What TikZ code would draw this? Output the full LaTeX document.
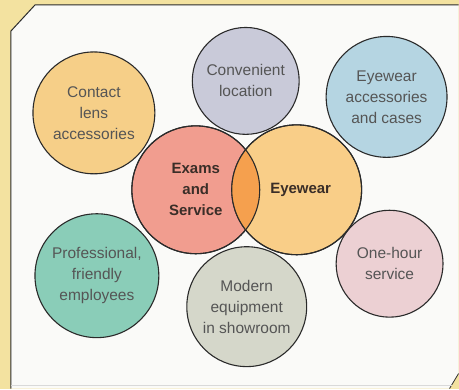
\documentclass[tikz,border=0pt]{standalone}
\usepackage{fontspec}
\setmainfont{Liberation Sans}
\definecolor{frameyellow}{HTML}{F3E2A0}
\definecolor{panelwhite}{HTML}{FAFAF8}
\definecolor{edge}{HTML}{2A2A2A}
\definecolor{txtgray}{HTML}{555555}
\definecolor{txtdark}{HTML}{3A2E28}
\definecolor{cContact}{HTML}{F6CF88}
\definecolor{cLocation}{HTML}{C9CAD9}
\definecolor{cCases}{HTML}{B5D5E2}
\definecolor{cExams}{HTML}{F19D8F}
\definecolor{cEyewear}{HTML}{F9CE88}
\definecolor{cOverlap}{HTML}{F5A04E}
\definecolor{cStaff}{HTML}{8ACDB8}
\definecolor{cShowroom}{HTML}{D5D7CA}
\definecolor{cHour}{HTML}{ECD0D3}
\tikzset{
  bubble/.style={circle, draw=edge, line width=1.1pt, inner sep=0pt,
    align=center, text=txtgray,
    font=\fontsize{15.5}{21}\selectfont},
  core/.style={bubble, text=txtdark,
    font=\fontsize{15}{21}\selectfont\bfseries},
  ring/.style={draw=edge, line width=1.1pt}
}
\begin{document}
\begin{tikzpicture}[x=1pt, y=-1pt]
  % page background and framed panel
  \fill[frameyellow] (0,0) rectangle (459,389);
  \fill[panelwhite] (11,31) -- (35,5) -- (459,5) -- (459,374) -- (450,389) -- (11,389) -- cycle;
  \draw[edge, line width=1pt] (11,389) -- (11,31) -- (35,5) -- (459,5);
  \draw[edge, line width=0.8pt] (459,374) -- (450,389);
  \draw[black!15, line width=0.6pt] (11,386) -- (452,386);

  % outer bubbles
  \node[bubble, fill=cContact, minimum size=122pt] (contact) at (94,113) {Contact\\lens\\accessories};
  \node[bubble, fill=cLocation, minimum size=107pt] (location) at (246,81) {Convenient\\location};
  \node[bubble, fill=cCases, minimum size=121pt] (cases) at (387,97) {Eyewear\\accessories\\and cases};
  \node[bubble, fill=cStaff, minimum size=124pt] (staff) at (97,276) {Professional,\\friendly\\employees};
  \node[bubble, fill=cShowroom, minimum size=120pt] (showroom) at (247,307) {Modern\\equipment\\in showroom};
  \node[bubble, fill=cHour, minimum size=107pt] (hour) at (390,264) {One-hour\\service};

  % the two overlapping core circles
  \node[core, fill=cExams, minimum size=128pt] (exams) at (196,190) {Exams\\and\\Service};
  \node[core, fill=cEyewear, minimum size=130pt] (eyewear) at (297,190) {\hspace*{8pt}Eyewear};
  \begin{scope}
    \clip (exams.center) circle (64pt);
    \fill[cOverlap] (eyewear.center) circle (65pt);
  \end{scope}
  \draw[ring] (exams.center) circle (64pt);
  \draw[ring] (eyewear.center) circle (65pt);
\end{tikzpicture}
\end{document}
